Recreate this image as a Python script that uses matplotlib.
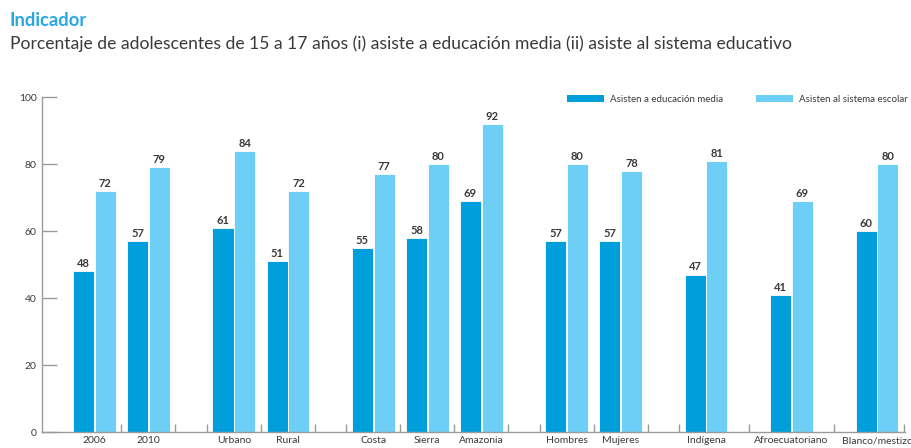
import matplotlib
matplotlib.use("Agg")
import matplotlib.pyplot as plt
from matplotlib.patches import Patch

# Data
groups = [["2006", "2010"], ["Urbano", "Rural"], ["Costa", "Sierra", "Amazonia"],
          ["Hombres", "Mujeres"], ["Indígena"], ["Afroecuatoriano"], ["Blanco/mestizo"]]
media = [48, 57, 61, 51, 55, 58, 69, 57, 57, 47, 41, 60]
escolar = [72, 79, 84, 72, 77, 80, 92, 80, 78, 81, 69, 80]
series_names = ["Asisten a educación media", "Asisten al sistema escolar"]
yticks = [0, 20, 40, 60, 80, 100]

title = "Indicador"
subtitle = ("Porcentaje de adolescentes de 15 a 17 años (i) asiste a educación media "
            "(ii) asiste al sistema educativo")

C_DARK = "#009EDB"
C_LIGHT = "#6DCFF6"
C_TITLE = "#27A8E0"
C_TEXT = "#3A3A3A"
C_AXIS = "#9A9A9A"
FONT = "Lato"

plt.rcParams["font.family"] = [FONT, "DejaVu Sans"]

# Category positions: one unit per category, extra space between groups
GAP = 0.58
labels, xs, sep_ticks = [], [], []
pos = 0.0
for gi, g in enumerate(groups):
    if gi > 0:
        prev_single = len(groups[gi - 1]) == 1
        if prev_single and len(g) == 1:
            pos += GAP
            sep_ticks.append(pos - 0.5 - GAP / 2)
        else:
            sep_ticks.append(pos - 0.5)
            pos += GAP
            sep_ticks.append(pos - 0.5)
    for i, c in enumerate(g):
        if i > 0:
            sep_ticks.append(pos - 0.5)
        labels.append(c)
        xs.append(pos)
        pos += 1.0
sep_ticks.append(xs[-1] + 0.5)

fig = plt.figure(figsize=(9.12, 4.48), dpi=100)
ax = fig.add_axes([42 / 912, 1 - 432 / 448, (905 - 42) / 912, (432 - 97) / 448])

w = 0.39
off = 0.2
xd = [x - off for x in xs]
xl = [x + off for x in xs]
b1 = ax.bar(xd, media, width=w, color=C_DARK, edgecolor="white", linewidth=0.6, zorder=2)
b2 = ax.bar(xl, escolar, width=w, color=C_LIGHT, edgecolor="white", linewidth=0.6, zorder=2)

for bars, vals in ((b1, media), (b2, escolar)):
    for rect, v in zip(bars, vals):
        ax.annotate(f"{v}", (rect.get_x() + rect.get_width() / 2, v),
                    xytext=(0, 1.5), textcoords="offset points",
                    ha="center", va="bottom", fontsize=8, fontweight="bold",
                    color=C_TEXT, annotation_clip=False)

ax.set_xlim(xs[0] - 0.97, xs[-1] + 0.52)
ax.set_ylim(0, 100)

for s in ("top", "right"):
    ax.spines[s].set_visible(False)
for s in ("left", "bottom"):
    ax.spines[s].set_color(C_AXIS)
    ax.spines[s].set_linewidth(1.0)

ax.set_yticks(yticks)
ax.set_yticklabels([str(t) for t in yticks])
ax.tick_params(axis="y", direction="in", length=11, width=1.0, color=C_AXIS,
               labelsize=7.5, labelcolor=C_TEXT, pad=4)

ax.set_xticks(sep_ticks)
ax.set_xticklabels([])
ax.tick_params(axis="x", which="major", direction="in", length=6, width=1.0, color=C_AXIS)
ax.set_xticks(xs, minor=True)
ax.set_xticklabels(labels, minor=True)
ax.tick_params(axis="x", which="minor", length=0, labelsize=7.5, labelcolor=C_TEXT, pad=3)

handles = [Patch(facecolor=C_DARK, edgecolor="none"), Patch(facecolor=C_LIGHT, edgecolor="none")]
ax.legend(handles, series_names, loc="upper right", bbox_to_anchor=(1.008, 1.017),
          ncol=2, frameon=False, fontsize=7, handlelength=3.9, handleheight=0.7,
          handletextpad=0.6, columnspacing=3.3, labelcolor=C_TEXT, borderaxespad=0)

fig.text(10 / 912, 1 - 20 / 448, title, fontsize=13.2, fontweight="bold",
         color=C_TITLE, ha="left", va="center")
fig.text(10 / 912, 1 - 44 / 448, subtitle, fontsize=12.65, color=C_TEXT,
         ha="left", va="center")

fig.savefig("out.png", dpi=100)
